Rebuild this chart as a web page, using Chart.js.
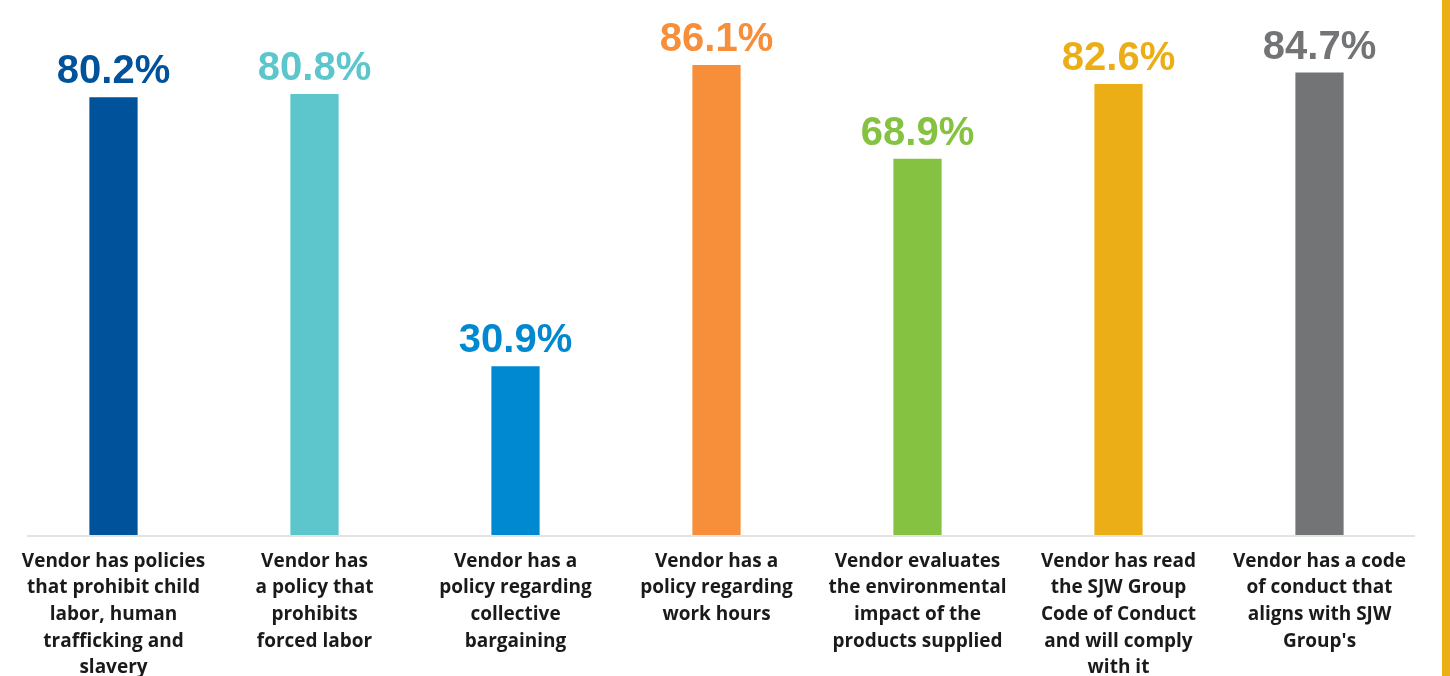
<!DOCTYPE html>
<html>
<head>
<meta charset="utf-8">
<script src="https://cdn.jsdelivr.net/npm/chart.js@4.4.1/dist/chart.umd.min.js"></script>
<style>
    html, body { margin: 0; padding: 0; background: #ffffff; }
    #wrap { position: relative; width: 1450px; height: 676px; overflow: hidden; }
    #franja { position: absolute; left: 1442px; top: 0; width: 8px; height: 676px; background: #ebb014; }
</style>
</head>
<body>
<div id="wrap">
    <canvas id="grafico" width="1450" height="676"></canvas>
    <div id="franja"></div>
</div>
<script>

// datos
const categorias = [
    ['Vendor has policies', 'that prohibit child', 'labor, human', 'trafficking and', 'slavery'],
    ['Vendor has', 'a policy that', 'prohibits', 'forced labor'],
    ['Vendor has a', 'policy regarding', 'collective', 'bargaining'],
    ['Vendor has a', 'policy regarding', 'work hours'],
    ['Vendor evaluates', 'the environmental', 'impact of the', 'products supplied'],
    ['Vendor has read', 'the SJW Group', 'Code of Conduct', 'and will comply', 'with it'],
    ['Vendor has a code', 'of conduct that', 'aligns with SJW', "Group's"]
];
const porcentajes = [80.2, 80.8, 30.9, 86.1, 68.9, 82.6, 84.7];
const colores = ['#00529b', '#5cc6cc', '#0088d1', '#f68e3a', '#86c241', '#ebae17', '#737476'];


// etiquetas de valor encima de cada barra
const etiquetasValor = {
    id: 'etiquetasValor',
    afterDatasetsDraw(chart) {
        const ctx = chart.ctx;
        const meta = chart.getDatasetMeta(0);
        ctx.save();
        ctx.font = 'bold 40px "Liberation Sans", Arial, sans-serif';
        ctx.textAlign = 'center';
        ctx.textBaseline = 'alphabetic';
        meta.data.forEach(function(barra, i) {
            ctx.fillStyle = colores[i];
            ctx.fillText(porcentajes[i].toFixed(1) + '%', barra.x, barra.y - 14);
        });
        ctx.restore();
    }
};

// linea base gris
const lineaBase = {
    id: 'lineaBase',
    beforeDatasetsDraw(chart) {
        const ctx = chart.ctx;
        const area = chart.chartArea;
        const y = chart.scales.y.getPixelForValue(0);
        ctx.save();
        ctx.strokeStyle = '#e4e4df';
        ctx.lineWidth = 2;
        ctx.beginPath();
        ctx.moveTo(area.left + 14, y + 1);
        ctx.lineTo(area.right - 5, y + 1);
        ctx.stroke();
        ctx.restore();
    }
};

const ctx = document.getElementById('grafico').getContext('2d');
const chart = new Chart(ctx, {
    type: 'bar',
    data: {
        labels: categorias,
        datasets: [{
            data: porcentajes,
            backgroundColor: colores,
            borderWidth: 0,
            barPercentage: 0.24,
            categoryPercentage: 1
        }]
    },
    options: {
        responsive: false,
        animation: false,
        layout: {
            padding: { left: 13, right: 30, top: 0, bottom: 0 }
        },
        plugins: {
            legend: { display: false },
            tooltip: { enabled: false }
        },
        scales: {
            y: {
                display: false,
                min: 0,
                max: 98
            },
            x: {
                grid: { display: false },
                border: { display: false },
                afterFit: function(scale) {
                    scale.height = 141;
                },
                ticks: {
                    color: '#1a1a1a',
                    maxRotation: 0,
                    autoSkip: false,
                    padding: 5,
                    font: {
                        family: '"Open Sans", Lato, sans-serif',
                        size: 19,
                        weight: 'bold',
                        lineHeight: 1.4
                    }
                }
            }
        }
    },
    plugins: [lineaBase, etiquetasValor]
});
</script>
</body>
</html>
